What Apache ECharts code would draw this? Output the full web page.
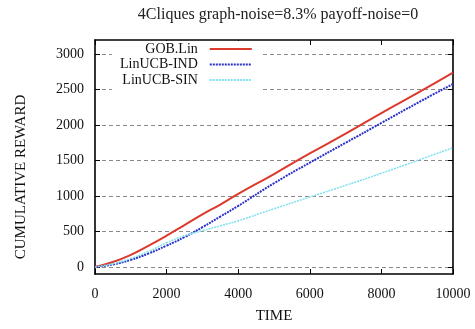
<!DOCTYPE html>
<html>
<head>
<meta charset="utf-8">
<script src="https://cdn.jsdelivr.net/npm/echarts@6/dist/echarts.min.js"></script>
<style>
  html, body { margin: 0; padding: 0; background: #fff; }
  #chart { width: 475px; height: 329px; }
</style>
</head>
<body>
<div id="chart"></div>
<script>
// Time steps at which the cumulative rewards were sampled
const timeSteps = [0, 500, 1000, 1500, 2000, 2500, 3000, 3500, 4000, 5000, 6000, 7000, 8000, 9000, 10000];
const gobLin     = [0, 70, 170, 300, 440, 590, 740, 880, 1030, 1310, 1600, 1880, 2170, 2450, 2740];
const linUcbInd  = [0, 35, 100, 190, 300, 420, 560, 710, 860, 1180, 1470, 1750, 2030, 2310, 2580];
const linUcbSin  = [0, 45, 120, 220, 340, 440, 510, 580, 650, 820, 985, 1150, 1320, 1500, 1680];
const yTicks = [0, 500, 1000, 1500, 2000, 2500, 3000];

const serif = 'Liberation Serif';
const pairs = (ys) => timeSteps.map((t, i) => [t, ys[i]]);
const plain = (v) => String(v);

const frame = { show: true, onZero: false, lineStyle: { color: '#000', width: 1.6 } };
const inTick = { show: true, inside: true, length: 5, lineStyle: { color: '#000', width: 1 } };

const chart = echarts.init(document.getElementById('chart'));
chart.setOption({
  animation: false,
  backgroundColor: '#fff',
  title: {
    text: '4Cliques graph-noise=8.3% payoff-noise=0',
    left: 273, top: 2, textAlign: 'center',
    textStyle: { fontFamily: serif, fontSize: 16, fontWeight: 'normal', color: '#222' }
  },
  grid: { left: 95, right: 22, top: 40, bottom: 50 },
  legend: {
    orient: 'vertical',
    align: 'right',
    left: 112, top: 41,
    itemWidth: 42, itemHeight: 10, itemGap: 1.5,
    backgroundColor: '#fff',
    padding: [1, 8, 3, 8],
    itemStyle: { opacity: 0 },
    formatter: (name) => name + '  ',
    textStyle: { fontFamily: serif, fontSize: 14, color: '#111' },
    data: ['GOB.Lin', 'LinUCB-IND', 'LinUCB-SIN']
  },
  xAxis: [{
    type: 'value', min: 0, max: 10000, interval: 2000,
    name: 'TIME', nameLocation: 'middle', nameGap: 35,
    nameTextStyle: { fontFamily: serif, fontSize: 15, color: '#111' },
    axisLine: frame, axisTick: inTick, splitLine: { show: false },
    axisLabel: { fontFamily: serif, fontSize: 14, color: '#111', margin: 13, formatter: plain }
  }, {
    type: 'value', position: 'top', min: 0, max: 10000, interval: 2000,
    axisLine: frame, axisTick: inTick, splitLine: { show: false },
    axisLabel: { show: false }
  }],
  yAxis: [{
    type: 'value', min: -100, max: 3200,
    name: 'CUMULATIVE REWARD', nameLocation: 'middle', nameGap: 66, nameRotate: 90,
    nameTextStyle: { fontFamily: serif, fontSize: 15, color: '#111', padding: [0, 40, 0, 0] },
    axisLine: frame,
    axisTick: Object.assign({ customValues: yTicks }, inTick),
    axisLabel: { customValues: yTicks, fontFamily: serif, fontSize: 14, color: '#111', margin: 11, formatter: plain },
    splitLine: { show: true, lineStyle: { color: '#8a8a8a', type: [4, 3], width: 1 } }
  }, {
    type: 'value', position: 'right', min: -100, max: 3200,
    axisLine: frame,
    axisTick: Object.assign({ customValues: yTicks }, inTick),
    axisLabel: { show: false, customValues: yTicks },
    splitLine: { show: false }
  }],
  series: [{
    name: 'GOB.Lin', type: 'line', symbol: 'none', smooth: true,
    data: pairs(gobLin),
    lineStyle: { color: '#dc3a2c', width: 2 }, itemStyle: { color: '#dc3a2c' }
  }, {
    name: 'LinUCB-IND', type: 'line', symbol: 'none', smooth: true,
    data: pairs(linUcbInd),
    lineStyle: { color: '#2a30c8', width: 2, type: [2, 1] }, itemStyle: { color: '#2a30c8' }
  }, {
    name: 'LinUCB-SIN', type: 'line', symbol: 'none', smooth: true,
    data: pairs(linUcbSin),
    lineStyle: { color: '#7fe0ee', width: 1.5, type: [2, 1] }, itemStyle: { color: '#7fe0ee' }
  }]
});
</script>
</body>
</html>
